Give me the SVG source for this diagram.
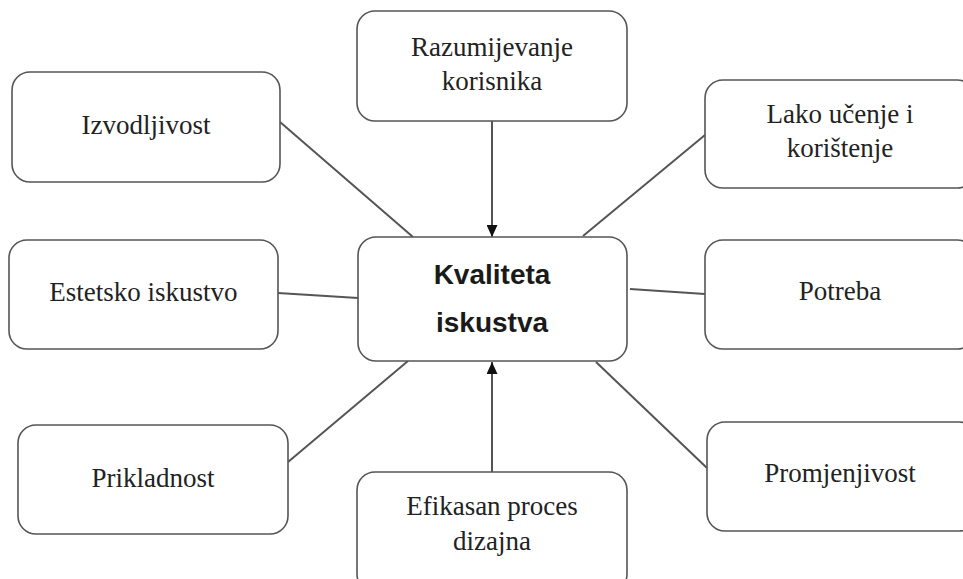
<svg xmlns="http://www.w3.org/2000/svg" width="963" height="579" viewBox="0 0 963 579">
<defs>
<marker id="arr" viewBox="0 0 12 11" refX="12" refY="5.5" markerWidth="12" markerHeight="11" markerUnits="userSpaceOnUse" orient="auto">
<path d="M0,0 L12,5.5 L0,11 Z" fill="#111"/>
</marker>
<style>
.box{fill:#fff;stroke:#555;stroke-width:1.6}
.t{font-family:"Liberation Serif","Times New Roman",serif;font-size:27px;fill:#222;text-anchor:middle}
.b{font-family:"Liberation Sans",Arial,sans-serif;font-size:28px;font-weight:bold;fill:#1a1a1a;text-anchor:middle}
.c{stroke:#555;stroke-width:2;fill:none}
</style>
</defs>
<rect width="963" height="579" fill="#fff"/>
<g id="connectors">
<line class="c" x1="492" y1="121" x2="492" y2="237" marker-end="url(#arr)"/>
<line class="c" x1="492" y1="472" x2="492" y2="362" marker-end="url(#arr)"/>
<line class="c" x1="280" y1="122" x2="413" y2="237"/>
<line class="c" x1="278" y1="293" x2="358" y2="298"/>
<line class="c" x1="288" y1="462" x2="408" y2="361"/>
<line class="c" x1="583" y1="236" x2="705" y2="135"/>
<line class="c" x1="630" y1="289" x2="705" y2="294"/>
<line class="c" x1="596" y1="362" x2="707" y2="468"/>
</g>
<g id="n-razumijevanje">
<rect class="box" x="357" y="11" width="270" height="110" rx="18"/>
<text class="t" x="492" y="56">Razumijevanje</text>
<text class="t" x="492" y="90">korisnika</text>
</g>
<g id="n-izvodljivost">
<rect class="box" x="12" y="72" width="268" height="110" rx="18"/>
<text class="t" x="146" y="134">Izvodljivost</text>
</g>
<g id="n-lako">
<rect class="box" x="705" y="80" width="270" height="108" rx="18"/>
<text class="t" x="840" y="123">Lako učenje i</text>
<text class="t" x="840" y="157">korištenje</text>
</g>
<g id="n-estetsko">
<rect class="box" x="9" y="240" width="269" height="109" rx="18"/>
<text class="t" x="143.5" y="301">Estetsko iskustvo</text>
</g>
<g id="n-kvaliteta">
<rect class="box" x="358" y="237" width="269" height="124" rx="18"/>
<text class="b" x="492" y="284">Kvaliteta</text>
<text class="b" x="492" y="332">iskustva</text>
</g>
<g id="n-potreba">
<rect class="box" x="705" y="240" width="270" height="109" rx="18"/>
<text class="t" x="840" y="300">Potreba</text>
</g>
<g id="n-prikladnost">
<rect class="box" x="18" y="425" width="270" height="109" rx="18"/>
<text class="t" x="153" y="487">Prikladnost</text>
</g>
<g id="n-efikasan">
<rect class="box" x="357" y="472" width="270" height="120" rx="18"/>
<text class="t" x="492" y="515">Efikasan proces</text>
<text class="t" x="492" y="550">dizajna</text>
</g>
<g id="n-promjenjivost">
<rect class="box" x="707" y="422" width="270" height="109" rx="18"/>
<text class="t" x="840" y="482">Promjenjivost</text>
</g>
</svg>
